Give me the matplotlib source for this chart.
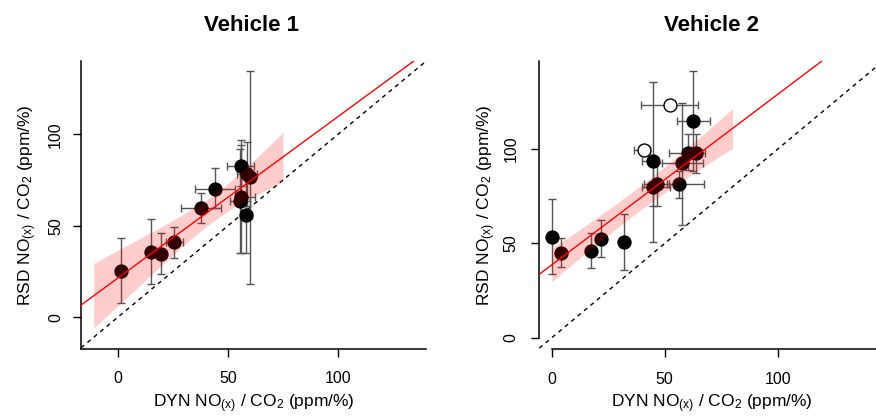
import numpy as np
import matplotlib.pyplot as plt

plt.rcParams['font.family'] = ['Liberation Sans', 'DejaVu Sans']
plt.rcParams['mathtext.fontset'] = 'custom'
plt.rcParams['mathtext.rm'] = 'Liberation Sans'
plt.rcParams['mathtext.it'] = 'Liberation Sans:italic'

# Vehicle 1: DYN vs RSD ratios with error ranges
v1_dyn = [1.5, 15.2, 19.7, 25.5, 37.9, 44.2, 55.9, 58.8, 59.9, 56.0, 55.3, 58.3]
v1_rsd = [25.2, 35.4, 34.5, 41.0, 59.7, 70.0, 82.8, 78.3, 76.6, 65.8, 63.5, 55.8]
v1_rsd_lo = [7.7, 17.9, 23.5, 32.5, 51.6, 59.5, 72.0, 61.0, 18.2, 35.0, 35.0, 35.0]
v1_rsd_hi = [43.4, 53.6, 45.8, 49.4, 68.0, 81.4, 93.9, 95.6, 134.6, 96.9, 92.0, 76.6]
v1_dyn_lo = [1.5, 15.2, 19.7, 22.0, 28.8, 34.9, 49.7, 54.0, 58.0, 53.0, 51.0, 56.0]
v1_dyn_hi = [1.5, 15.2, 19.7, 29.5, 46.7, 53.0, 61.8, 63.0, 62.0, 62.1, 60.0, 61.0]
v1_fit = (21.4, 0.883)  # intercept, slope
v1_band_x = [-11, 0, 10, 20, 30, 40, 50, 60, 70, 75]
v1_band_lo = [-5.9, 6.2, 17.4, 28.6, 39.4, 49.5, 58.1, 65.1, 71.2, 74.1]
v1_band_hi = [29.3, 36.6, 43.0, 49.6, 56.4, 63.9, 73.1, 83.7, 95.2, 101.1]

# Vehicle 2
v2_dyn = [0.3, 4.0, 17.4, 21.7, 31.9, 45.0, 46.5, 44.7, 56.2, 57.7, 60.2, 63.7, 62.7]
v2_rsd = [53.5, 45.0, 45.9, 52.5, 50.9, 80.0, 81.5, 93.6, 81.3, 92.4, 98.0, 97.7, 115.0]
v2_rsd_lo = [33.8, 37.6, 36.8, 42.6, 35.9, 70.0, 70.0, 50.9, 74.2, 59.7, 88.9, 87.3, 88.3]
v2_rsd_hi = [73.7, 52.7, 55.6, 62.4, 65.4, 92.4, 92.4, 135.7, 88.4, 124.4, 107.8, 107.8, 141.3]
v2_dyn_lo = [0.3, 4.0, 17.4, 21.7, 31.9, 39.8, 41.0, 39.8, 50.9, 48.7, 51.9, 58.0, 55.6]
v2_dyn_hi = [0.3, 4.0, 17.4, 21.7, 31.9, 52.3, 52.0, 46.5, 67.5, 67.1, 66.4, 68.0, 70.0]
v2_open_dyn = [52.3, 40.8]
v2_open_rsd = [123.5, 99.3]
v2_open_dyn_lo = [39.5, 36.5]
v2_open_dyn_hi = [64.6, 43.5]
v2_fit = (38.6, 0.904)
v2_band_x = [0, 10, 20, 30, 40, 50, 60, 70, 80]
v2_band_lo = [29.8, 39.8, 49.7, 59.2, 68.4, 77.0, 85.1, 92.9, 100.4]
v2_band_hi = [47.4, 55.4, 63.7, 72.2, 81.2, 90.6, 100.5, 110.9, 121.4]

ticks = [0, 50, 100]
xlabel = r'DYN NO$_{\rm (x)}$ / CO$_{\rm 2}$ (ppm/%)'
ylabel = r'RSD NO$_{\rm (x)}$ / CO$_{\rm 2}$ (ppm/%)'

W, H = 876, 416
fig = plt.figure(figsize=(W / 100, H / 100), dpi=100)
ax1 = fig.add_axes([81 / W, (H - 348.7) / H, 345 / W, 288 / H])
ax2 = fig.add_axes([539.3 / W, (H - 349.3) / H, 344.7 / W, 288.6 / H])


def errs(v, lo, hi):
    v = np.asarray(v)
    return [v - np.asarray(lo), np.asarray(hi) - v]


def panel(ax, dyn, rsd, dlo, dhi, rlo, rhi, fit, bx, blo, bhi):
    ax.axline((0, 0), slope=1, color='black', lw=1, ls=(0, (3, 3)), zorder=1)
    ax.errorbar(dyn, rsd, xerr=errs(dyn, dlo, dhi), yerr=errs(rsd, rlo, rhi),
                fmt='none', ecolor='#555555', elinewidth=1, capsize=3,
                capthick=1, zorder=2)
    ax.plot(dyn, rsd, 'o', color='black', ms=9.3, zorder=3)
    ax.fill_between(bx, blo, bhi, color='red', alpha=0.2, lw=0, zorder=4)
    ax.axline((0, fit[0]), slope=fit[1], color='red', lw=1, zorder=5)
    ax.set_xticks(ticks)
    ax.set_yticks(ticks)
    for s in ('top', 'right'):
        ax.spines[s].set_visible(False)
    for s in ('left', 'bottom'):
        ax.spines[s].set_linewidth(1.1)
    ax.tick_params(length=6, width=1, labelsize=11.5)
    ax.tick_params(axis='x', pad=10)
    ax.tick_params(axis='y', labelrotation=90)
    for t in ax.get_yticklabels():
        t.set_va('center')


panel(ax1, v1_dyn, v1_rsd, v1_dyn_lo, v1_dyn_hi, v1_rsd_lo, v1_rsd_hi,
      v1_fit, v1_band_x, v1_band_lo, v1_band_hi)
ax1.set_xlim(-16.8, 140)
ax1.set_ylim(-17.3, 140.3)
ax1.tick_params(axis='y', pad=7)

panel(ax2, v2_dyn, v2_rsd, v2_dyn_lo, v2_dyn_hi, v2_rsd_lo, v2_rsd_hi,
      v2_fit, v2_band_x, v2_band_lo, v2_band_hi)
ax2.errorbar(v2_open_dyn, v2_open_rsd, xerr=errs(v2_open_dyn, v2_open_dyn_lo, v2_open_dyn_hi),
             fmt='none', ecolor='#555555', elinewidth=1, capsize=3, capthick=1, zorder=2)
ax2.plot(v2_open_dyn, v2_open_rsd, 'o', mfc='white', mec='black', mew=1, ms=9.3, zorder=3)
ax2.set_xlim(-5.5, 147)
ax2.set_ylim(-6.1, 146.8)
ax2.spines['left'].set_bounds(0, 146.8)
ax2.spines['bottom'].set_bounds(0, 147)
ax2.tick_params(axis='y', pad=9)

# titles and axis labels
fig.text(251 / W, 1 - 31 / H, 'Vehicle 1', ha='center', va='baseline',
         fontsize=16, fontweight='bold')
fig.text(711 / W, 1 - 31 / H, 'Vehicle 2', ha='center', va='baseline',
         fontsize=16, fontweight='bold')
for cx in (253.5, 712):
    fig.text(cx / W, 1 - 407 / H, xlabel, ha='center', va='baseline', fontsize=12.5)
for bx_, cy in ((31.7, 204.7), (490, 205)):
    fig.text(bx_ / W, 1 - cy / H, ylabel, ha='center', va='baseline', rotation=90,
             rotation_mode='anchor', fontsize=12.5)

fig.savefig('out.png', dpi=100)
